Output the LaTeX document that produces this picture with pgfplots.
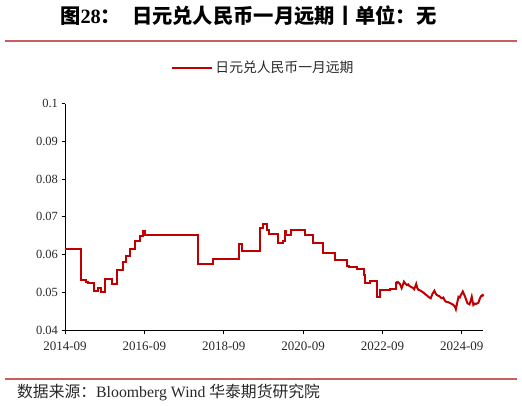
\documentclass[border=0pt]{standalone}
\usepackage{fontspec}
\setmainfont{Liberation Serif}
\newfontfamily\cjk{Noto Sans CJK SC}
\usepackage{pgfplots}
\pgfplotsset{compat=1.18}
\definecolor{series}{RGB}{192,0,0}
\definecolor{rule}{RGB}{200,95,95}
\definecolor{txt}{RGB}{40,40,40}
\begin{document}
\begin{tikzpicture}[x=1bp,y=1bp]
\path[use as bounding box] (0,0) rectangle (522,405);
\draw[rule, line width=1.5bp] (5,364) -- (517,364);
\draw[rule, line width=1.5bp] (5,26) -- (517,26);
\node[anchor=west, inner sep=0pt] at (60,389.5) {\fontsize{20.3bp}{24bp}\selectfont\bfseries\cjk 图{\rmfamily\bfseries 28}：\hspace{11bp}日元兑人民币一月远期丨单位：无};
\node[anchor=west, inner sep=0pt, text=txt] at (17,12.5) {\fontsize{15.8bp}{18bp}\selectfont{\cjk 数据来源：}Bloomberg Wind {\cjk 华泰期货研究院}};
\begin{axis}[
  at={(65bp,75bp)}, anchor=south west,
  scale only axis, width=418.3bp, height=226.5bp,
  xmin=0, xmax=126.5, ymin=0.04, ymax=0.1,
  axis lines=left, axis line style={-, line width=0.9bp, black},
  tick style={black, line width=0.9bp}, tick align=outside,
  major tick length=3.5bp,
  xtick={0,24,48,72,96,120},
  xticklabels={2014-09,2016-09,2018-09,2020-09,2022-09,2024-09},
  ytick={0.04,0.05,0.06,0.07,0.08,0.09,0.1},
  yticklabels={0.04,0.05,0.06,0.07,0.08,0.09,0.1},
  xticklabel style={font=\fontsize{13bp}{15bp}\selectfont, text=txt, yshift=-5bp},
  yticklabel style={font=\fontsize{12.5bp}{14bp}\selectfont, text=txt},
  legend style={at={(axis description cs:0.4745,1.157)}, anchor=center, draw=none, fill=none,
     font=\fontsize{13.8bp}{16bp}\selectfont\cjk, text=txt},
  legend image code/.code={\draw[#1] (0bp,0bp) -- (40bp,0bp);},
  clip=false,
]
\addplot[series, line width=2bp, const plot mark left] coordinates {
(0,0.0615) (4.9,0.0532) (6.2,0.0528) (7.0,0.0525) (8.9,0.0503) (10.0,0.0510)
(10.9,0.0501) (12.1,0.0534) (14.1,0.0523) (15.8,0.0559) (17.4,0.0580)
(18.4,0.0596) (19.6,0.0614) (21.1,0.0636) (22.7,0.0648) (23.6,0.0662)
(24.1,0.0651) (40.1,0.0576) (44.8,0.0587) (52.6,0.0628) (53.6,0.0609)
(59.1,0.0669) (59.8,0.0680) (61.0,0.0666) (61.6,0.0654) (64.3,0.0630)
(65.9,0.0637) (66.4,0.0662) (66.7,0.0652) (68.2,0.0665) (72.7,0.0652)
(75.0,0.0631) (78.0,0.0603) (81.8,0.0586) (85.3,0.0570) (86.0,0.0566)
(86.8,0.0568) (88.3,0.0562) (90.3,0.0545) (90.8,0.0525) (92.3,0.0531)
(94.2,0.0488) (95.4,0.0506) (98.2,0.0509) (100.0,0.0528)
};
\addlegendentry{日元兑人民币一月远期}
\addplot[series, line width=2bp, forget plot] coordinates {
(100.0,0.0528) (100.4,0.0524) (100.7,0.0527) (101.3,0.0522) (101.8,0.0511)
(102.2,0.0520) (102.5,0.0528) (103.0,0.0522) (103.4,0.0519) (103.8,0.0521)
(104.1,0.0517) (104.5,0.0515) (104.9,0.0513) (105.3,0.0511) (105.6,0.0508)
(105.9,0.0515) (106.2,0.0522) (106.5,0.0512) (106.9,0.0506) (107.4,0.0505)
(107.9,0.0502) (108.4,0.0499) (108.9,0.0495) (109.4,0.0492) (109.9,0.0488)
(110.2,0.0486) (110.6,0.0484) (110.9,0.0491) (111.2,0.0497) (111.7,0.0504)
(112.0,0.0498) (112.4,0.0493) (112.8,0.0491) (113.2,0.0490) (113.6,0.0486)
(113.9,0.0484) (114.4,0.0486) (114.8,0.0479) (115.2,0.0475) (115.8,0.0474)
(116.5,0.0471) (117.0,0.0469) (117.5,0.0466) (117.9,0.0462) (118.2,0.0455)
(118.6,0.0472) (119.0,0.0488) (119.4,0.0486) (119.7,0.0493) (120.0,0.0497)
(120.3,0.0502) (120.7,0.0494) (121.0,0.0488) (121.4,0.0478) (121.7,0.0471)
(122.3,0.0468) (122.7,0.0478) (123.0,0.0488) (123.3,0.0474) (123.5,0.0466)
(124.0,0.0470) (124.3,0.0469) (124.7,0.0471) (125.0,0.0472) (125.4,0.0482)
(125.7,0.0488) (126.0,0.0491) (126.3,0.0493) (126.5,0.0489)
};
\end{axis}
\end{tikzpicture}
\end{document}
